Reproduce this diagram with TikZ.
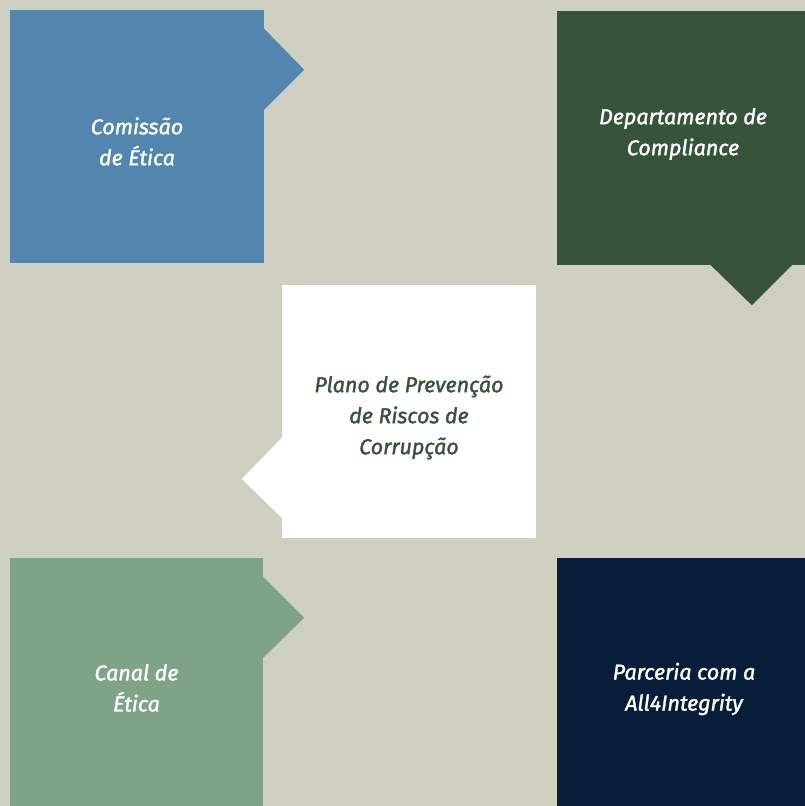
\documentclass[tikz,border=0pt]{standalone}
\usepackage{fontspec}
\setsansfont{Fira Sans}[ItalicFeatures={FakeBold=1.6}]
\usepackage{xcolor}
\usepackage{tikz}
\usetikzlibrary{positioning,calc}
\definecolor{bgG}{HTML}{CFCFC2}
\definecolor{etB}{HTML}{5286AF}
\definecolor{cpG}{HTML}{37533A}
\definecolor{caG}{HTML}{7FA386}
\definecolor{paN}{HTML}{071D3A}

\begin{document}
\begin{tikzpicture}[x=1pt,y=1pt, font=\sffamily\itshape\fontsize{21.5}{31}\selectfont,
  card/.style={inner sep=0pt, minimum width=#1},
  lbl/.style={inner sep=0pt, align=center, text=white},
  ]
% ---- the ground
\fill[bgG] (0,0) rectangle (805,806);
\useasboundingbox (0,0) rectangle (805,806);
% ---- the cards
\node[card=254, fill=etB, minimum height=253] (etica) at (137,669.5) {};
\node[card=248, fill=cpG, minimum height=254] (compl) at (681,668) {};
\node[card=254, fill=white, minimum height=253] (plano) at (409,394.5) {};
\node[card=253, fill=caG, minimum height=248] (canal) at (136.5,124) {};
\node[card=248, fill=paN, minimum height=248] (parc) at (681,124) {};
% ---- the pointers
\fill[etB] ($(etica.north east)+(0,-19)$) -- ++(40,-41) -- ++(-40,-40) -- cycle;
\fill[cpG] ($(compl.south west)+(154,0)$) -- ++(41,-40) -- ++(40,40) -- cycle;
\fill[white] ($(plano.north west)+(0,-153)$) -- ++(-40,-41) -- ++(40,-39) -- cycle;
\fill[caG] ($(canal.north east)+(0,-19)$) -- ++(41,-41) -- ++(-41,-40) -- cycle;
% ---- the labels
\node[lbl] (etical) at ($(etica.center)+(0,-5)$) {Comissão\\de Ética};
\node[lbl] (compll) at ($(compl.center)+(2,4)$) {Departamento de\\Compliance};
\node[lbl, text=cpG] (planol) at ($(plano.center)+(0,-6)$) {Plano de Prevenção\\de Riscos de\\Corrupção};
\node[lbl] (canall) at ($(canal.center)+(0,-6)$) {Canal de\\Ética};
\node[lbl] (parcl) at ($(parc.center)+(3,-7)$) {Parceria com a\\All4Integrity};
\end{tikzpicture}
\end{document}
